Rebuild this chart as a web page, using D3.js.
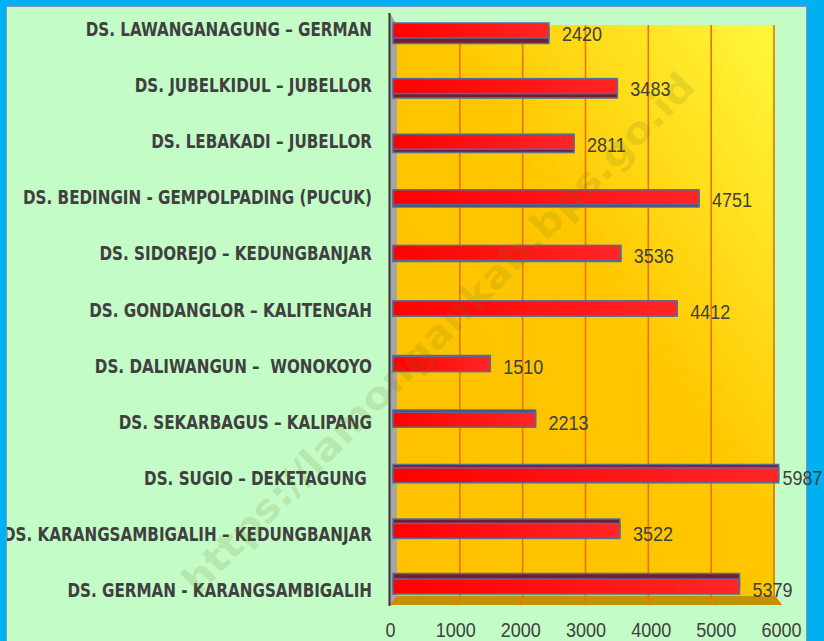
<!DOCTYPE html>
<html><head><meta charset="utf-8">
<script src="https://cdn.jsdelivr.net/npm/d3@7"></script>
<style>
html,body{margin:0;padding:0;background:#C4FCC8;}
svg{display:block;}
text{white-space:pre;}
</style></head>
<body>
<svg id="chart" width="824" height="641"></svg>
<script>
const categories = [
  "DS. LAWANGANAGUNG – GERMAN",
  "DS. JUBELKIDUL – JUBELLOR",
  "DS. LEBAKADI – JUBELLOR",
  "DS. BEDINGIN - GEMPOLPADING (PUCUK)",
  "DS. SIDOREJO – KEDUNGBANJAR",
  "DS. GONDANGLOR – KALITENGAH",
  "DS. DALIWANGUN –  WONOKOYO",
  "DS. SEKARBAGUS – KALIPANG",
  "DS. SUGIO – DEKETAGUNG ",
  "DS. KARANGSAMBIGALIH – KEDUNGBANJAR",
  "DS. GERMAN - KARANGSAMBIGALIH"
];
const values = [2420, 3483, 2811, 4751, 3536, 4412, 1510, 2213, 5987, 3522, 5379];
const tickValues = [0, 1000, 2000, 3000, 4000, 5000, 6000];
const watermark = "https://lamongankab.bps.go.id";

const svg = d3.select("#chart");
const W = 824, H = 641;

// scales (3D-ish: back wall, bar plane, front edge)
const xBack = d3.scaleLinear().domain([0, 6000]).range([397, 774]);
const xBar = d3.scaleLinear().domain([0, 6000]).range([393, 779.5]);
const xFront = d3.scaleLinear().domain([0, 6000]).range([390, 781]);
const yBar = d3.scalePoint().domain(categories).range([30.5, 586.5]);
const yLabel = d3.scalePoint().domain(categories).range([36, 597]);
const wallTop = 25, wallBottom = 596, frontBottom = 605, leftTop = 13;

const defs = svg.append("defs");
const wg = defs.append("linearGradient").attr("id", "wall")
  .attr("x1", "0").attr("y1", "1").attr("x2", "1").attr("y2", "0");
wg.append("stop").attr("offset", "0").attr("stop-color", "#FFC000");
wg.append("stop").attr("offset", "0.55").attr("stop-color", "#FFC700");
wg.append("stop").attr("offset", "1").attr("stop-color", "#FFF83C");
const bg = defs.append("linearGradient").attr("id", "bar")
  .attr("x1", "0").attr("y1", "0").attr("x2", "1").attr("y2", "0");
bg.append("stop").attr("offset", "0").attr("stop-color", "#FF0000");
bg.append("stop").attr("offset", "1").attr("stop-color", "#FF2626");

// background
svg.append("rect").attr("width", W).attr("height", H).attr("fill", "#C4FCC8");

// back wall
svg.append("rect")
  .attr("x", xBack(0)).attr("y", wallTop)
  .attr("width", xBack(6000) - xBack(0) + 1).attr("height", wallBottom - wallTop)
  .attr("fill", "url(#wall)");

// floor
svg.append("path")
  .attr("d", `M${xBack(0)},${wallBottom} L${xBack(6000)+1},${wallBottom} L${xFront(6000)+1},${frontBottom} L${xFront(0)},${frontBottom} Z`)
  .attr("fill", "#C29200");

// gridlines
svg.append("g").selectAll("line.g").data(tickValues.slice(1)).join("line")
  .attr("x1", d => xBack(d)).attr("x2", d => xBack(d))
  .attr("y1", wallTop).attr("y2", wallBottom)
  .attr("stroke", "#E8730C").attr("stroke-width", 1.6);
svg.append("g").selectAll("line.f").data(tickValues).join("line")
  .attr("x1", d => xBack(d)).attr("x2", d => xFront(d))
  .attr("y1", wallBottom).attr("y2", frontBottom)
  .attr("stroke", "#E8730C").attr("stroke-width", 1.6);

// left wall
svg.append("path")
  .attr("d", `M${xFront(0)},${leftTop} L${xBack(0)},${wallTop} L${xBack(0)},${wallBottom} L${xFront(0)},${frontBottom} Z`)
  .attr("fill", "#A6A6A6");
svg.append("line")
  .attr("x1", xFront(0) - 0.5).attr("x2", xFront(0) - 0.5)
  .attr("y1", leftTop).attr("y2", frontBottom + 1)
  .attr("stroke", "#404040").attr("stroke-width", 2.2);

// bars
const barH = 15;
const n = categories.length;
const bars = svg.append("g").selectAll("g").data(categories).join("g");
bars.append("rect")
  .attr("x", xBar(0))
  .attr("y", (d, i) => yBar(d) - barH / 2 + 5.5 * (1 - 2 * i / (n - 1)))
  .attr("width", (d, i) => xBar(values[i]) - xBar(0))
  .attr("height", barH)
  .attr("fill", "#7A1C30").attr("stroke", "#4F6F9F").attr("stroke-width", 1.5);
bars.append("rect")
  .attr("x", xBar(0))
  .attr("y", d => yBar(d) - barH / 2)
  .attr("width", (d, i) => xBar(values[i]) - xBar(0))
  .attr("height", barH)
  .attr("fill", "url(#bar)").attr("stroke", "#4F6F9F").attr("stroke-width", 1.5);

const numFont = "'Liberation Sans',Arial,sans-serif";
const labFont = "'DejaVu Sans Condensed','DejaVu Sans',sans-serif";

// category labels
const labels = svg.append("g").selectAll("text").data(categories).join("text")
  .attr("x", 372)
  .attr("y", d => yLabel(d))
  .attr("text-anchor", "end")
  .attr("font-family", labFont).attr("font-weight", "bold").attr("font-size", 20)
  .attr("fill", "#404040")
  .text(d => d);
let maxLen = 0;
labels.each(function () { maxLen = Math.max(maxLen, this.getComputedTextLength()); });
const factor = 369 / maxLen;
labels.each(function () {
  const l = this.getComputedTextLength();
  d3.select(this).attr("textLength", l * factor).attr("lengthAdjust", "spacingAndGlyphs");
});

// watermark
svg.append("text")
  .attr("transform", "translate(438,333) rotate(-45.5)")
  .attr("text-anchor", "middle").attr("dy", "0.35em")
  .attr("font-family", "'DejaVu Sans',sans-serif").attr("font-weight", "bold")
  .attr("font-size", 38)
  .attr("fill", "#6B7A1E").attr("fill-opacity", 0.16)
  .attr("textLength", 712).attr("lengthAdjust", "spacingAndGlyphs")
  .text(watermark);

// outer frame
svg.append("rect").attr("x", 0).attr("y", 0).attr("width", W).attr("height", 6).attr("fill", "#00B0F0");
svg.append("rect").attr("x", 0).attr("y", 0).attr("width", 6).attr("height", H).attr("fill", "#00B0F0");
svg.append("rect").attr("x", 807).attr("y", 0).attr("width", W - 807).attr("height", H).attr("fill", "#00B0F0");
svg.append("line").attr("x1", 6).attr("x2", 807).attr("y1", 6.5).attr("y2", 6.5).attr("stroke", "#7F95BE").attr("stroke-width", 1);
svg.append("line").attr("x1", 806.5).attr("x2", 806.5).attr("y1", 6).attr("y2", H).attr("stroke", "#7F95BE").attr("stroke-width", 1);
svg.append("line").attr("x1", 6.5).attr("x2", 6.5).attr("y1", 6).attr("y2", H).attr("stroke", "#7F95BE").attr("stroke-width", 1);

// value labels (drawn over frame, clamped to stay inside picture)
const vals = svg.append("g").selectAll("text").data(categories).join("text")
  .attr("y", d => yBar(d) + 10)
  .attr("font-family", numFont).attr("font-size", 20)
  .attr("fill", "#404040")
  .text((d, i) => values[i]);
vals.each(function (d, i) {
  const l = this.getComputedTextLength() * 0.9;
  const x = Math.min(xBar(values[i]) + 13, W - 1.5 - l);
  d3.select(this).attr("x", x).attr("textLength", l).attr("lengthAdjust", "spacingAndGlyphs");
});

// x axis tick labels
const axis = d3.axisBottom(xFront).tickValues(tickValues).tickSize(0).tickPadding(0).tickFormat(d3.format("d"));
const ax = svg.append("g").attr("transform", `translate(0,${637})`).call(axis);
ax.select(".domain").remove();
ax.selectAll("text")
  .attr("dy", null).attr("y", 0)
  .attr("font-family", numFont).attr("font-size", 20)
  .attr("fill", "#404040")
  .each(function () {
    const l = this.getComputedTextLength() * 0.9;
    d3.select(this).attr("textLength", l).attr("lengthAdjust", "spacingAndGlyphs");
  });
</script>
</body></html>
